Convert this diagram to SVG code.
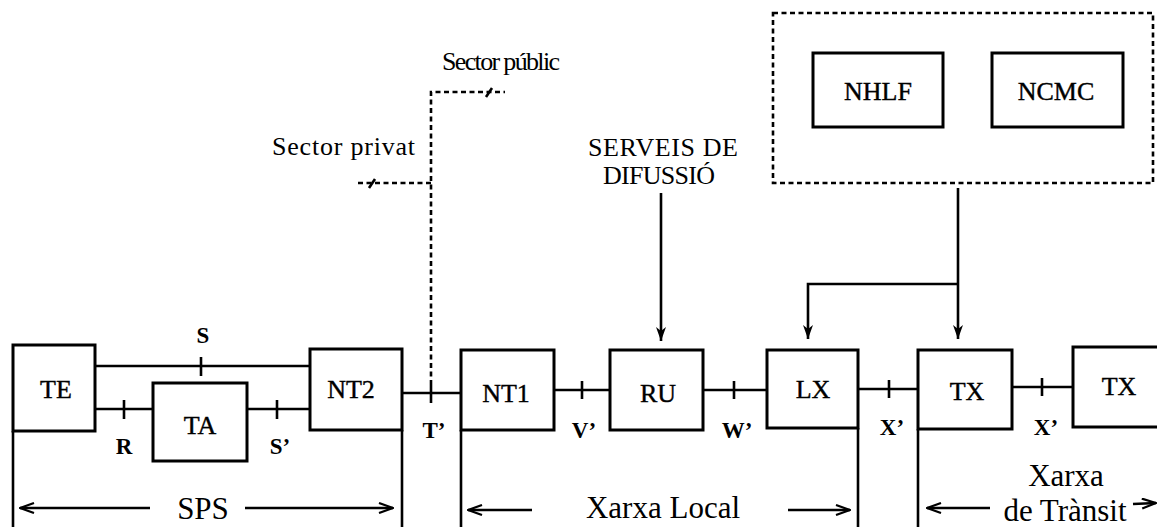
<svg xmlns="http://www.w3.org/2000/svg" width="1157" height="527" viewBox="0 0 1157 527">
<style>
.box{fill:#fff;stroke:#000;stroke-width:3}
.ln{fill:none;stroke:#000;stroke-width:2.6}
.dot{fill:none;stroke:#000;stroke-width:2.6;stroke-dasharray:5 3.5}
.lbl{font-family:"Liberation Serif","Times New Roman",serif;font-size:26px;fill:#000;text-anchor:middle;stroke:#000;stroke-width:0.4}
.if{font-family:"Liberation Serif","Times New Roman",serif;font-size:23px;fill:#000;text-anchor:middle;font-weight:bold}
.big{font-family:"Liberation Serif","Times New Roman",serif;font-size:31px;fill:#000;text-anchor:middle}
.txt{font-family:"Liberation Serif","Times New Roman",serif;font-size:26px;fill:#000}
</style>
<defs>
<marker id="ah" viewBox="0 0 14 10" markerWidth="14" markerHeight="10" refX="14" refY="5" orient="auto" markerUnits="userSpaceOnUse">
<path d="M0,0 L14,5 L0,10 L4,5 z" fill="#000"/>
</marker>
<marker id="oh" viewBox="0 0 16 12" markerWidth="16" markerHeight="12" refX="15" refY="6" orient="auto-start-reverse" markerUnits="userSpaceOnUse">
<path d="M1,1 L15,6 L1,11" fill="none" stroke="#000" stroke-width="2.2"/>
</marker>
</defs>

<g id="connectors">
<line class="ln" x1="95" y1="366" x2="310" y2="366"/>
<line class="ln" x1="201" y1="357" x2="201" y2="376"/>
<line class="ln" x1="95" y1="409" x2="153" y2="409"/>
<line class="ln" x1="124" y1="400" x2="124" y2="419"/>
<line class="ln" x1="247" y1="409" x2="310" y2="409"/>
<line class="ln" x1="277" y1="400" x2="277" y2="419"/>
<line class="ln" x1="402" y1="393" x2="461" y2="393"/>
<line class="ln" x1="431" y1="385" x2="431" y2="403"/>
<line class="ln" x1="554" y1="390" x2="610" y2="390"/>
<line class="ln" x1="582" y1="381" x2="582" y2="399"/>
<line class="ln" x1="703" y1="390" x2="767" y2="390"/>
<line class="ln" x1="734" y1="381" x2="734" y2="399"/>
<line class="ln" x1="858" y1="389" x2="918" y2="389"/>
<line class="ln" x1="889" y1="380" x2="889" y2="398"/>
<line class="ln" x1="1012" y1="387" x2="1073" y2="387"/>
<line class="ln" x1="1042" y1="378" x2="1042" y2="396"/>
<line class="ln" x1="13" y1="431" x2="13" y2="527"/>
<line class="ln" x1="402" y1="430" x2="402" y2="527"/>
<line class="ln" x1="461" y1="430" x2="461" y2="527"/>
<line class="ln" x1="858" y1="428" x2="858" y2="527"/>
<line class="ln" x1="918" y1="429" x2="918" y2="527"/>
<path class="dot" d="M431,385 L431,92 L505,92"/>
<path class="dot" d="M431,183 L358,183"/>
<line class="ln" x1="486" y1="97" x2="492" y2="88" stroke-width="2"/>
<line class="ln" x1="369" y1="188" x2="375" y2="179" stroke-width="2"/>
<line class="ln" x1="661" y1="193" x2="661" y2="341" marker-end="url(#ah)"/>
<line class="ln" x1="958" y1="188" x2="958" y2="339" marker-end="url(#ah)"/>
<path class="ln" d="M958,284 L808,284 L808,339" marker-end="url(#ah)"/>
<line class="ln" x1="150" y1="508" x2="20" y2="508" marker-end="url(#oh)"/>
<line class="ln" x1="245" y1="508" x2="393" y2="508" marker-end="url(#oh)"/>
<line class="ln" x1="532" y1="510" x2="468" y2="510" marker-end="url(#oh)"/>
<line class="ln" x1="788" y1="510" x2="850" y2="510" marker-end="url(#oh)"/>
<line class="ln" x1="990" y1="508" x2="927" y2="508" marker-end="url(#oh)"/>
<line class="ln" x1="1133" y1="504" x2="1156" y2="503" marker-end="url(#oh)"/>
</g>

<g id="te"><rect class="box" x="13" y="345" width="82" height="86"/><text class="lbl" x="56" y="398">TE</text></g>
<g id="ta"><rect class="box" x="153" y="383" width="94" height="78"/><text class="lbl" x="200" y="434">TA</text></g>
<g id="nt2"><rect class="box" x="310" y="349" width="92" height="81"/><text class="lbl" x="351" y="398">NT2</text></g>
<g id="nt1"><rect class="box" x="461" y="350" width="93" height="80"/><text class="lbl" x="506" y="402">NT1</text></g>
<g id="ru"><rect class="box" x="610" y="350" width="93" height="80"/><text class="lbl" x="658" y="402">RU</text></g>
<g id="lx"><rect class="box" x="767" y="350" width="91" height="78"/><text class="lbl" x="813" y="398">LX</text></g>
<g id="tx1"><rect class="box" x="918" y="350" width="94" height="79"/><text class="lbl" x="967" y="400">TX</text></g>
<g id="tx2"><rect class="box" x="1073" y="347" width="100" height="80"/><text class="lbl" x="1119" y="395">TX</text></g>
<g id="control">
<rect class="dot" x="773" y="13" width="380" height="170"/>
<g id="nhlf"><rect class="box" x="813" y="53" width="130" height="74"/><text class="lbl" x="878" y="100">NHLF</text></g>
<g id="ncmc"><rect class="box" x="992" y="53" width="131" height="74"/><text class="lbl" x="1056" y="100">NCMC</text></g>
</g>

<g id="labels">
<text class="if" x="203" y="343">S</text>
<text class="if" x="124" y="454">R</text>
<text class="if" x="280" y="454">S’</text>
<text class="if" x="434" y="438">T’</text>
<text class="if" x="584" y="438">V’</text>
<text class="if" x="737" y="438">W’</text>
<text class="if" x="892" y="435">X’</text>
<text class="if" x="1046" y="435">X’</text>
<text class="txt" x="272" y="155" textLength="143" lengthAdjust="spacing">Sector  privat</text>
<text class="txt" x="442" y="70" font-size="25" textLength="118" lengthAdjust="spacing">Sector públic</text>
<text class="txt" x="588" y="156" font-size="22" textLength="150" lengthAdjust="spacing">SERVEIS DE</text>
<text class="txt" x="603" y="184" font-size="22" textLength="112" lengthAdjust="spacing">DIFUSSIÓ</text>
<text class="big" x="203" y="519">SPS</text>
<text class="big" x="663" y="518">Xarxa Local</text>
<text class="big" x="1066" y="486" font-size="27">Xarxa</text>
<text class="big" x="1065" y="521" font-size="27">de  Trànsit</text>
</g>
</svg>
